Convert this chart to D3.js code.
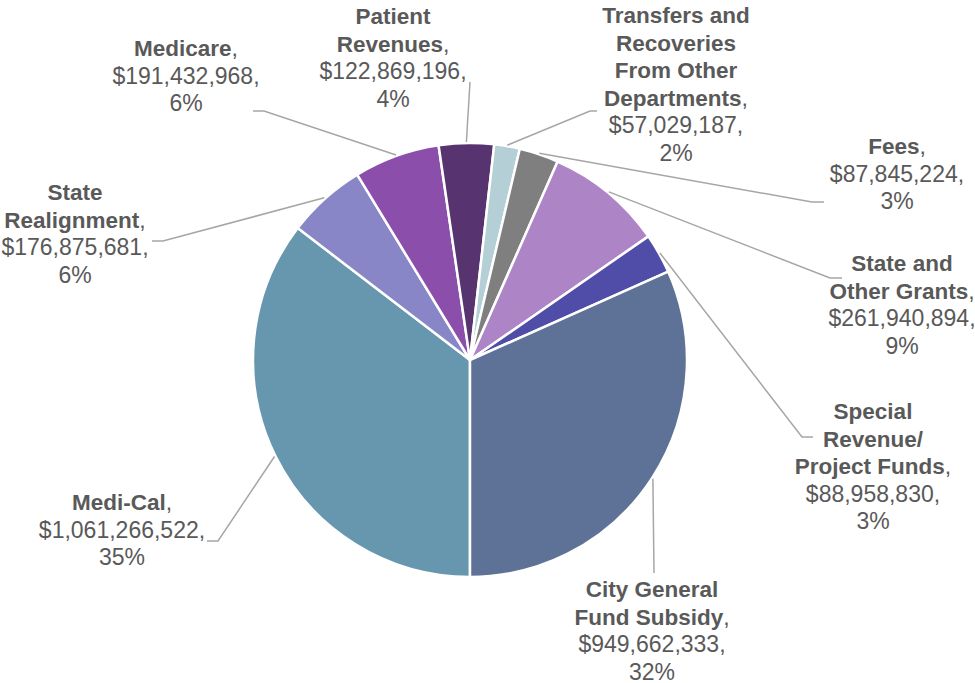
<!DOCTYPE html>
<html>
<head>
<meta charset="utf-8">
<script src="https://cdn.jsdelivr.net/npm/d3@7"></script>
<style>
  body { margin: 0; background: #fff; }
  svg { display: block; font-family: "Liberation Sans", Arial, sans-serif; }
</style>
</head>
<body>
<svg id="chart" width="975" height="683"></svg>
<script>
// data, in the order the slices run clockwise from 6 o'clock
const categories = [
  "Medi-Cal",
  "State Realignment",
  "Medicare",
  "Patient Revenues",
  "Transfers and Recoveries From Other Departments",
  "Fees",
  "State and Other Grants",
  "Special Revenue/ Project Funds",
  "City General Fund Subsidy"
];
const amounts = [1061266522, 176875681, 191432968, 122869196, 57029187, 87845224, 261940894, 88958830, 949662333];
// how each category name is wrapped in its label
const nameLines = [
  ["Medi-Cal"],
  ["State", "Realignment"],
  ["Medicare"],
  ["Patient", "Revenues"],
  ["Transfers and", "Recoveries", "From Other", "Departments"],
  ["Fees"],
  ["State and", "Other Grants"],
  ["Special", "Revenue/", "Project Funds"],
  ["City General", "Fund Subsidy"]
];
const colors = ["#6797af", "#8986c8", "#8b4eab", "#573370", "#b4cfd6", "#7f7f7f", "#ad84c6", "#4f4da8", "#5e7197"];

// label placement: x = centre of block, y = centre of first line, leader attach point + elbow
const labelPos = [
  { x: 122, y: 502, anchor: [207, 541], elbow: [218, 541] },
  { x: 75,  y: 192, anchor: [152, 241], elbow: [163, 241] },
  { x: 186, y: 48,  anchor: [253, 111], elbow: [264, 111] },
  { x: 393, y: 16,  anchor: [470, 82],  elbow: null },
  { x: 676, y: 15,  anchor: [597, 111], elbow: [590, 111] },
  { x: 897, y: 146, anchor: [824, 202], elbow: [812, 202] },
  { x: 902, y: 263, anchor: [842, 278], elbow: [830, 278] },
  { x: 873, y: 411, anchor: [813, 437], elbow: [802, 437] },
  { x: 652, y: 589, anchor: [654, 573], elbow: null }
];

const cx = 470, cy = 360, radius = 217;
const lineH = 27.5;
const textColor = "#595959";

const data = categories.map((c, i) => ({ name: c, amount: amounts[i], lines: nameLines[i], color: colors[i], pos: labelPos[i] }));
const total = d3.sum(amounts);
const fmtMoney = v => "$" + d3.format(",")(v) + ",";
const fmtPct = d3.format(".0%");

const svg = d3.select("#chart");

const pie = d3.pie()
  .sort(null)
  .value(d => d.amount)
  .startAngle(Math.PI)
  .endAngle(3 * Math.PI);

const arcs = pie(data);
const arc = d3.arc().innerRadius(0).outerRadius(radius);
const edge = d3.arc().innerRadius(radius + 1).outerRadius(radius + 1);

const g = svg.append("g").attr("transform", `translate(${cx},${cy})`);

// leader lines
svg.append("g")
  .selectAll("polyline")
  .data(arcs)
  .join("polyline")
  .attr("fill", "none")
  .attr("stroke", "#a6a6a6")
  .attr("stroke-width", 1.5)
  .attr("points", d => {
    const p = edge.centroid(d);
    const pts = [[p[0] + cx, p[1] + cy]];
    if (d.data.pos.elbow) pts.push(d.data.pos.elbow);
    pts.push(d.data.pos.anchor);
    return pts.map(q => q.join(",")).join(" ");
  });

// slices
g.selectAll("path")
  .data(arcs)
  .join("path")
  .attr("d", arc)
  .attr("fill", d => d.data.color)
  .attr("stroke", "#fff")
  .attr("stroke-width", 2.5)
  .attr("stroke-linejoin", "round");

// labels
const labels = svg.append("g")
  .selectAll("text")
  .data(arcs)
  .join("text")
  .attr("text-anchor", "middle")
  .attr("fill", textColor)
  .attr("font-size", 23);

labels.each(function (d) {
  const t = d3.select(this);
  const { x, y } = d.data.pos;
  const lines = d.data.lines;
  lines.forEach((ln, i) => {
    const ts = t.append("tspan")
      .attr("x", x)
      .attr("y", y + 8 + i * lineH);
    ts.append("tspan").attr("font-weight", "bold").attr("font-size", 22.5).text(ln);
    if (i === lines.length - 1) ts.append("tspan").text(",");
  });
  t.append("tspan")
    .attr("x", x)
    .attr("y", y + 8 + lines.length * lineH)
    .text(fmtMoney(d.data.amount));
  t.append("tspan")
    .attr("x", x)
    .attr("y", y + 8 + (lines.length + 1) * lineH)
    .text(fmtPct(d.data.amount / total));
});
</script>
</body>
</html>
